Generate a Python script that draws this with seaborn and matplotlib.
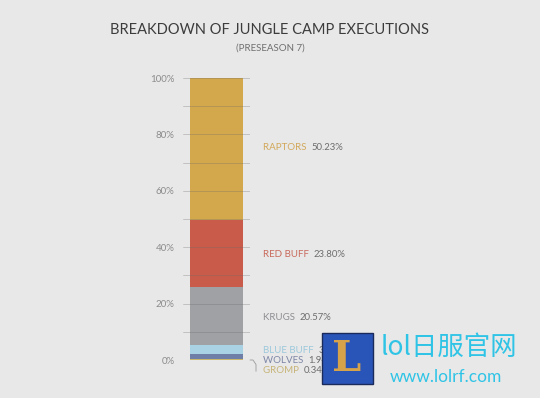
"""
Breakdown of jungle camp executions (preseason 7) - stacked single bar
"""
import matplotlib.pyplot as plt
import matplotlib.transforms as mtransforms
import pandas as pd
import seaborn as sns

# data, bottom to top
camps = ["GROMP", "WOLVES", "BLUE BUFF", "KRUGS", "RED BUFF", "RAPTORS"]
shares = [0.34, 1.94, 3.12, 20.57, 23.80, 50.23]
share_labels = ["0.34%", "1.94%", "3.12%", "20.57%", "23.80%", "50.23%"]
colors = ["#c9b56c", "#6e7ea6", "#a9d3e4", "#9fa1a4", "#c85b4a", "#d3a74c"]
label_colors = ["#c7b477", "#7d86a6", "#9cc9dc", "#8e8f93", "#c96a5c", "#d2a85a"]
yticks = [0, 20, 40, 60, 80, 100]

bg = "#e8e8e8"
sns.set_style("white")
plt.rcParams["font.family"] = ["Lato", "DejaVu Sans"]

fig = plt.figure(figsize=(5.4, 3.98), dpi=100, facecolor=bg)
W, H = 540, 398
ax = fig.add_axes([183 / W, 1 - 360 / H, 67 / W, 282 / H])
ax.set_facecolor("none")

cum = pd.Series(shares).cumsum().tolist()

# draw cumulative tops from the largest down so each layer covers the one above it
for i in reversed(range(len(camps))):
    sns.barplot(x=["all"], y=[cum[i]], color=colors[i], width=0.79,
                saturation=1, ax=ax, edgecolor="none")

ax.set_ylim(0, 100)
ax.set_xlim(-0.5, 0.5)
for s in ax.spines.values():
    s.set_visible(False)
ax.set_xticks([])
ax.set_xlabel("")
ax.set_ylabel("")
ax.set_yticks(yticks)
ax.set_yticklabels([f"{t}%" for t in yticks], color="#8c8c8c", fontsize=7)
ax.tick_params(axis="y", length=0, pad=6)

# grid lines every 10 % drawn across the bar
for g in range(0, 101, 10):
    ax.axhline(g, color="#6a6a6a", lw=0.6, alpha=0.35, zorder=5)

# labels to the right of the bar
trans = mtransforms.blended_transform_factory(ax.transAxes, ax.transData)
label_y = [-3.6, -0.1, 3.3, 15.2, 37.5, 75.5]
for name, pct, lc, ly in zip(camps, share_labels, label_colors, label_y):
    t = ax.text(80 / 67, ly, name + "  ", transform=trans, color=lc,
                fontsize=7, va="center", ha="left", clip_on=False)
    fig.canvas.draw()
    bb = t.get_window_extent()
    x_end = ax.transAxes.inverted().transform((bb.x1, 0))[0]
    ax.text(x_end, ly, pct, transform=trans, color="#6d6d6d", fontsize=6.8,
            va="center", ha="left", clip_on=False)

# small bracket from bar bottom to the tiny camps
ax.plot([67 / 67, 70 / 67, 73 / 67, 73 / 67], [0, 0, -1.6, -4.0],
        transform=trans, color="#9a9a9a", lw=0.6, clip_on=False)

fig.text(0.5, 1 - 30 / H, "BREAKDOWN OF JUNGLE CAMP EXECUTIONS", ha="center",
         va="center", fontsize=10.5, color="#3c3c3c")
fig.text(0.5, 1 - 48 / H, "(PRESEASON 7)", ha="center", va="center",
         fontsize=7, color="#6f6f6f")

# watermark, laid over the lower labels as in the source image
fig.patches.append(plt.Rectangle((322 / W, 1 - 384 / H), 51 / W, 51 / H,
                                 transform=fig.transFigure, facecolor="#2a55b8",
                                 edgecolor="#1a2a5a", lw=1, zorder=10))
fig.text(347 / W, 1 - 359 / H, "L", ha="center", va="center", fontsize=30,
         color="#d6a24a", fontweight="bold", family="DejaVu Serif", zorder=11)
fig.text(381 / W, 1 - 347 / H, "lol日服官网", ha="left", va="center", fontsize=19,
         color="#2fc4e6", family=["Noto Sans CJK SC", "DejaVu Sans"], zorder=11)
fig.text(390 / W, 1 - 377 / H, "www.lolrf.com", ha="left", va="center",
         fontsize=12.5, color="#2fc4e6", zorder=11)

fig.savefig("out.png", dpi=100, facecolor=bg)
